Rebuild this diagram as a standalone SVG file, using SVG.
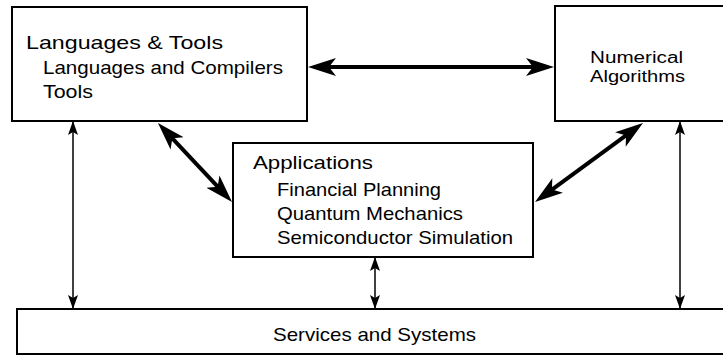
<svg xmlns="http://www.w3.org/2000/svg" width="723" height="356" viewBox="0 0 723 356">
<style>
.box{fill:#fff;stroke:#000;stroke-width:2}
.t{font-family:"Liberation Sans",Arial,Helvetica,sans-serif;font-size:19px;fill:#000}
.ts{font-family:"Liberation Sans",Arial,Helvetica,sans-serif;font-size:16px;fill:#000}
.thick{stroke:#000;stroke-width:4;fill:none;marker-start:url(#hb);marker-end:url(#hb)}
.thin{stroke:#000;stroke-width:1.5;fill:none;marker-start:url(#hs);marker-end:url(#hs)}
</style>
<defs>
<marker id="hb" markerUnits="userSpaceOnUse" markerWidth="28" markerHeight="20" viewBox="0 0 28 20" refX="18" refY="10" orient="auto-start-reverse">
<path d="M0,1 L28,10 L0,19 L7,10 Z" fill="#000"/>
</marker>
<marker id="hs" markerUnits="userSpaceOnUse" markerWidth="14" markerHeight="10" viewBox="0 0 14 10" refX="13" refY="5" orient="auto-start-reverse">
<path d="M0,0 L14,5 L0,10 L3,5 Z" fill="#000"/>
</marker>
</defs>
<rect width="723" height="356" fill="#fff"/>
<g id="languages-tools">
<rect class="box" x="12" y="7" width="295" height="114"/>
<text class="t" x="26" y="49" textLength="197" lengthAdjust="spacingAndGlyphs">Languages &amp; Tools</text>
<text class="t" x="43" y="74" textLength="240" lengthAdjust="spacingAndGlyphs">Languages and Compilers</text>
<text class="t" x="43" y="98" textLength="50" lengthAdjust="spacingAndGlyphs">Tools</text>
</g>
<g id="numerical-algorithms">
<rect class="box" x="555" y="6" width="175" height="115"/>
<text class="ts" x="590" y="63" textLength="93" lengthAdjust="spacingAndGlyphs">Numerical</text>
<text class="ts" x="590" y="82" textLength="95" lengthAdjust="spacingAndGlyphs">Algorithms</text>
</g>
<g id="applications">
<rect class="box" x="233" y="143" width="300" height="114"/>
<text class="t" x="253" y="169" textLength="120" lengthAdjust="spacingAndGlyphs">Applications</text>
<text class="t" x="277" y="196" textLength="164" lengthAdjust="spacingAndGlyphs">Financial Planning</text>
<text class="t" x="277" y="220" textLength="186" lengthAdjust="spacingAndGlyphs">Quantum Mechanics</text>
<text class="t" x="277" y="244" textLength="236" lengthAdjust="spacingAndGlyphs">Semiconductor Simulation</text>
</g>
<g id="services-systems">
<rect class="box" x="17" y="309" width="715" height="45"/>
<text class="t" x="273" y="341" textLength="203" lengthAdjust="spacingAndGlyphs">Services and Systems</text>
</g>
<g id="connectors">
<line class="thick" x1="318" y1="67" x2="544" y2="67"/>
<line class="thick" x1="164.8" y1="130.3" x2="225.2" y2="194.7"/>
<line class="thick" x1="634.9" y1="128.9" x2="543.1" y2="196.1"/>
<line class="thin" x1="73" y1="122" x2="73" y2="308"/>
<line class="thin" x1="680" y1="122" x2="680" y2="308"/>
<line class="thin" x1="375" y1="258" x2="375" y2="308"/>
</g>
</svg>
